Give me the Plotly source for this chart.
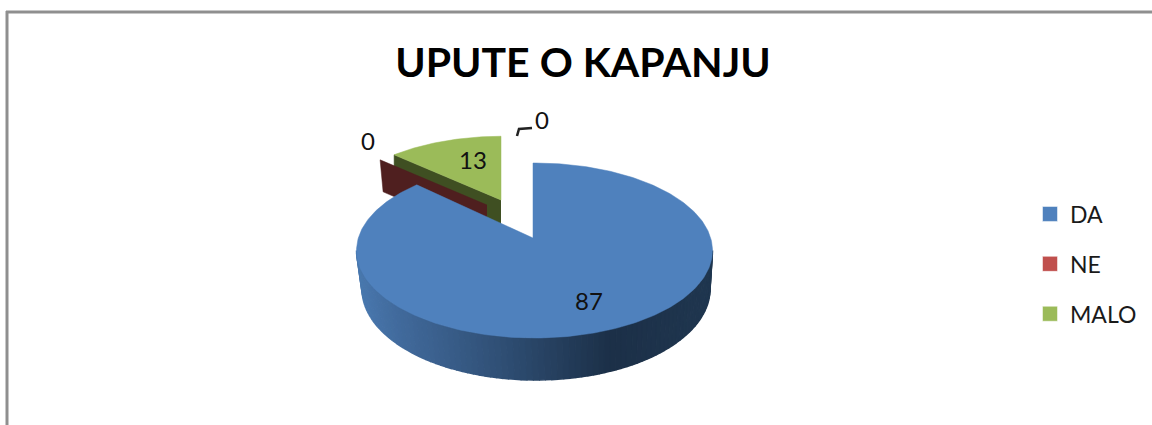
import numpy as np
import plotly.graph_objects as go

# ---- data ----
categories = ["DA", "NE", "MALO"]
values = [87, 0, 13]
title_text = "UPUTE O KAPANJU"

# ---- styles / layout ----
W, H = 1152, 425
FONT = "Lato"
TOP = {"DA": "#4f81bd", "NE": "#c0504d", "MALO": "#9bbb59"}
CUT = {"DA": "#2c4a6e", "NE": "#4f1f1f", "MALO": "#3f4f22"}
APEX = {"DA": (533, 238), "NE": (487, 205), "MALO": (501, 200)}
SCALE_X = {"DA": 1.0, "NE": 0.92, "MALO": 0.92}
SCALE_Y = {"DA": 1.0, "NE": 0.85, "MALO": 0.85}
CX, CY, RX, RY = 534.5, 250.5, 178.0, 87.5
FORE = 0.487
DEPTH = 32
LOW_CX, LOW_CY, LOW_RX, LOW_RY = 536.0, 289.0, 174.0, 91.0
SIDE_STOPS = [(360, (74, 122, 176)), (400, (66, 107, 157)), (500, (48, 80, 118)),
              (610, (28, 48, 72)), (713, (32, 55, 80))]


def rim_point(theta, name):
    """Point where a slice edge at clock angle theta leaves the perspective ellipse."""
    apex = APEX[name]
    dx, dy = np.sin(theta), -FORE * np.cos(theta)
    ox = (APEX["DA"][0] - CX) / RX
    oy = (APEX["DA"][1] - CY) / RY
    a = (dx / RX) ** 2 + (dy / RY) ** 2
    b = 2 * (ox * dx / RX + oy * dy / RY)
    c = ox ** 2 + oy ** 2 - 1
    t = (-b + np.sqrt(b ** 2 - 4 * a * c)) / (2 * a)
    return apex[0] + SCALE_X[name] * t * dx, apex[1] + SCALE_Y[name] * t * dy


def sector(name, a0, a1):
    apex = APEX[name]
    th = np.linspace(a0, a1, max(2, int(abs(a1 - a0) * 60)))
    pts = [rim_point(t, name) for t in th]
    return [apex[0]] + [p[0] for p in pts] + [apex[0]], [apex[1]] + [p[1] for p in pts] + [apex[1]]


fractions = np.array(values, dtype=float) / sum(values)
edges = np.concatenate([[0], np.cumsum(fractions)]) * 2 * np.pi
span = {c: (edges[i], edges[i + 1]) for i, c in enumerate(categories)}

fig = go.Figure()


def poly(xs, ys, color, width=0.5):
    fig.add_trace(go.Scatter(x=list(xs), y=list(ys), mode="lines", fill="toself", fillcolor=color,
                             line=dict(color=color, width=width), hoverinfo="skip", showlegend=False))


# green slice: cut wall then top; red slice: cut wall only (zero value)
for name in ["MALO", "NE"]:
    apex = APEX[name]
    edge = rim_point(span[name][0], name)
    bottom_edge_x = edge[0] + 3 if name == "NE" else edge[0]
    poly([apex[0], edge[0], bottom_edge_x, apex[0]],
         [apex[1], edge[1], edge[1] + DEPTH, apex[1] + DEPTH], CUT[name])
    if name == "MALO":
        x, y = sector(name, *span[name])
        poly(x, y, TOP[name])

# blue side wall, drawn as thin strips for the horizontal shading
ang = np.linspace(-np.pi / 2, np.pi / 2, 90)
up_x, up_y = CX + RX * np.sin(ang), CY + RY * np.cos(ang)
lo_x, lo_y = LOW_CX + LOW_RX * np.sin(ang), LOW_CY + LOW_RY * np.cos(ang)
stops_x = [s[0] for s in SIDE_STOPS]
for i in range(len(ang) - 1):
    xm = (lo_x[i] + lo_x[i + 1]) / 2
    rgb = [int(np.interp(xm, stops_x, [s[1][k] for s in SIDE_STOPS])) for k in range(3)]
    poly([up_x[i], up_x[i + 1], lo_x[i + 1], lo_x[i]],
         [up_y[i], up_y[i + 1], lo_y[i + 1], lo_y[i]], f"rgb({rgb[0]},{rgb[1]},{rgb[2]})", width=1.5)

# blue top
x, y = sector("DA", *span["DA"])
poly(x, y, TOP["DA"])

# data labels
label_x = [589, 368, 473, 542]
label_y = [304, 144, 163, 123]
label_t = [str(values[0]), str(values[1]), str(values[2]), "0"]
fig.add_trace(go.Scatter(x=label_x, y=label_y, text=label_t, mode="text",
                         textfont=dict(family=FONT, size=24, color="#111111"),
                         hoverinfo="skip", showlegend=False))
# leader line of the hidden label
fig.add_trace(go.Scatter(x=[517, 519, 532], y=[136, 129, 128], mode="lines",
                         line=dict(color="#222222", width=2.5), hoverinfo="skip", showlegend=False))

# legend entries
for c in categories:
    fig.add_trace(go.Scatter(x=[None], y=[None], mode="markers", name=c, legendgroup=c,
                             marker=dict(symbol="square", size=15, color=TOP[c],
                                         line=dict(color="rgba(255,255,255,0.5)", width=1))))

fig.update_layout(
    width=W, height=H, autosize=False,
    margin=dict(l=0, r=0, t=0, b=0),
    paper_bgcolor="white", plot_bgcolor="white",
    xaxis=dict(range=[0, W], visible=False, fixedrange=True),
    yaxis=dict(range=[H, 0], visible=False, fixedrange=True),
    title=dict(text=f"<b>{title_text}</b>", x=583 / W, xanchor="center", y=1 - 63 / H, yanchor="middle",
               font=dict(family=FONT, size=41, color="#000000")),
    legend=dict(x=1030 / W, xanchor="left", y=1 - 264 / H, yanchor="middle",
                font=dict(family=FONT, size=23, color="#1a1a1a"),
                tracegroupgap=17, bgcolor="rgba(0,0,0,0)"),
    shapes=[
        dict(type="line", xref="x", yref="y", x0=6, x1=W, y0=12, y1=12, line=dict(color="#8f8f8f", width=3)),
        dict(type="line", xref="x", yref="y", x0=7, x1=7, y0=11, y1=H, line=dict(color="#8f8f8f", width=3)),
    ],
)

fig.write_html("out.html", config={"displayModeBar": False},
               post_script="document.body.style.margin='0';document.body.style.overflow='hidden';")
